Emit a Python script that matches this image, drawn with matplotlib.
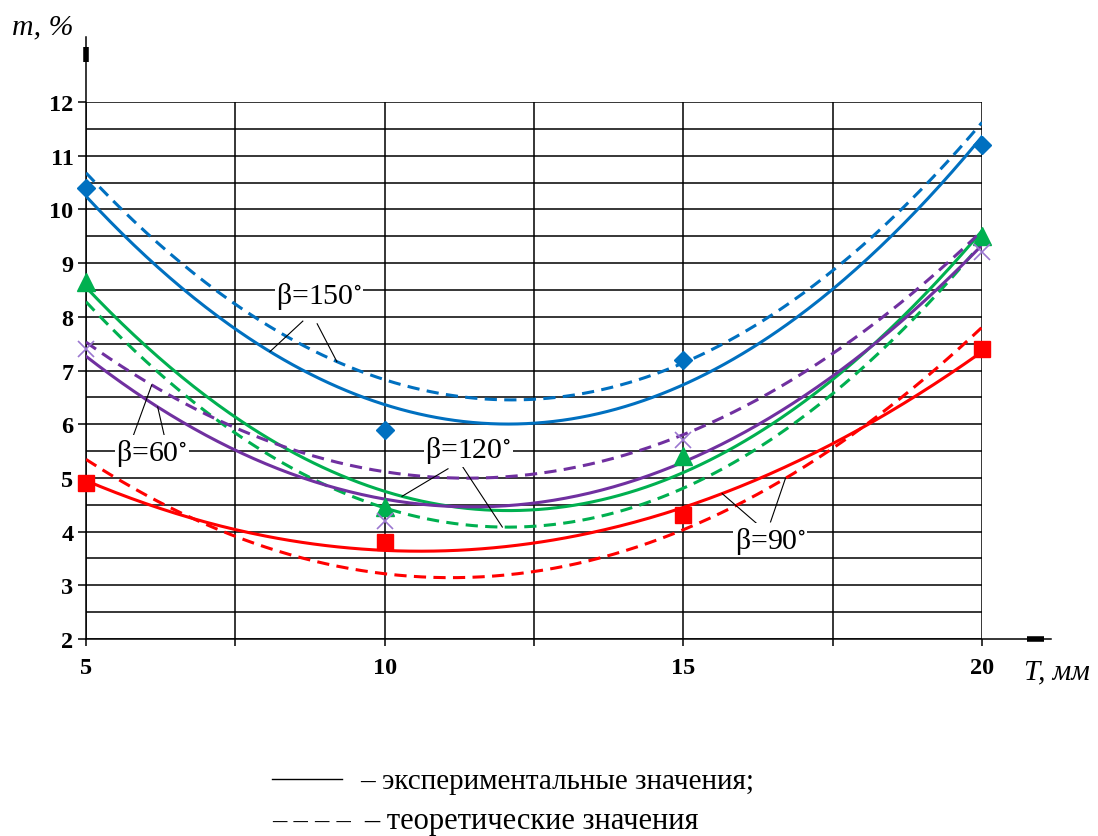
import numpy as np
import matplotlib
matplotlib.use("Agg")
import matplotlib.pyplot as plt
from matplotlib.lines import Line2D

plt.rcParams['font.family'] = ['Liberation Serif', 'DejaVu Serif']
plt.rcParams['mathtext.fontset'] = 'stix'

# Thickness T, mm
T = [5, 10, 15, 20]

# Experimental points, m %
exp_150 = [10.4, 5.9, 7.2, 11.2]
exp_120 = [8.65, 4.45, 5.4, 9.5]
exp_90 = [4.9, 3.8, 4.3, 7.4]
exp_60 = [7.4, 4.2, 5.7, 9.2]

# Theoretical values, m %
theo_150 = [10.7, 6.77, 7.2, 11.6]
theo_120 = [8.3, 4.38, 4.87, 9.36]
theo_90 = [5.35, 3.2, 4.05, 7.8]
theo_60 = [7.55, 5.05, 5.87, 9.58]

x_major = [5, 10, 15, 20]
x_minor = [7.5, 12.5, 17.5]
y_major = list(range(2, 13))
y_minor = [v + 0.5 for v in range(2, 12)]

BLUE = '#0070C0'
GREEN = '#00B050'
RED = '#FF0000'
PURPLE = '#7030A0'
PURPLE_X = '#9B77D0'

W, H = 1098, 837
fig = plt.figure(figsize=(W / 100, H / 100), dpi=100)
ax = fig.add_axes([86 / W, 1 - 640 / H, 896 / W, 537 / H])
ax.set_xlim(5, 20)
ax.set_ylim(2, 12)
for s in ax.spines.values():
    s.set_visible(False)

ax.set_xticks(x_major)
ax.set_xticks(x_minor, minor=True)
ax.set_yticks(y_major)
ax.set_yticks(y_minor, minor=True)
ax.grid(True, which='both', color='black', lw=1.1)
ax.set_axisbelow(True)
ax.tick_params(axis='y', which='major', length=6, width=1.1, pad=3, labelsize=17.5)
ax.tick_params(axis='y', which='minor', length=0)
ax.tick_params(axis='x', which='both', length=5, width=1.1, pad=8, labelsize=17.5)
for lab in ax.get_xticklabels() + ax.get_yticklabels():
    lab.set_fontweight('bold')

# axis arrows
ax.plot([5, 5], [2, 13.21], color='black', lw=1.1, clip_on=False)
ax.plot([5, 5], [12.745, 13.02], color='black', lw=4, solid_capstyle='butt', clip_on=False)
ax.plot([5, 21.15], [2, 2], color='black', lw=1.1, clip_on=False)
ax.plot([20.75, 21.03], [2, 2], color='black', lw=4, solid_capstyle='butt', clip_on=False)

xs = np.linspace(5, 20, 300)
series = [
    (exp_150, theo_150, BLUE, dict(marker='D', ms=9, color=BLUE)),
    (exp_120, theo_120, GREEN, dict(marker='^', ms=13, color=GREEN)),
    (exp_60, theo_60, PURPLE, dict(marker='x', ms=12, mew=1.2, color=PURPLE_X)),
    (exp_90, theo_90, RED, dict(marker='s', ms=12, color=RED)),
]
fits = []
for exp_vals, theo_vals, col, mk in series:
    c_exp = np.polyfit(T, exp_vals, 2)
    c_theo = np.polyfit(T, theo_vals, 2)
    fits.append((c_exp, c_theo))
    ax.plot(xs, np.polyval(c_theo, xs), color=col, lw=2.2, dashes=(4, 2.4), zorder=3)
    ax.plot(xs, np.polyval(c_exp, xs), color=col, lw=2.2, zorder=3)
for exp_vals, theo_vals, col, mk in series:
    ax.plot(T, exp_vals, ls='none', zorder=5, clip_on=False, **mk)

(f150, f120, f60, f90) = fits


def beta_label(text, xy, leaders):
    for (sx, sy), coef, xe in leaders:
        ax.plot([sx, xe], [sy, np.polyval(coef, xe)], color='black', lw=0.8, zorder=4)
    ax.text(xy[0], xy[1], text + r'$^{\circ}$', ha='center', va='center', fontsize=21.5,
            zorder=6, bbox=dict(fc='white', ec='none', pad=1))


beta_label('β=150', (8.9, 8.4), [((8.63, 7.92), f150[0], 8.08), ((8.87, 7.87), f150[1], 9.2)])
beta_label('β=60', (6.1, 5.48), [((5.77, 5.72), f60[1], 6.1), ((6.32, 5.74), f60[0], 6.2)])
beta_label('β=120', (11.4, 5.52), [((11.06, 5.17), f120[0], 10.29), ((11.31, 5.2), f120[1], 11.97)])
beta_label('β=90', (16.45, 3.84), [((16.24, 4.14), f90[0], 15.65), ((16.46, 4.18), f90[1], 16.71)])

fig.text(12 / W, 1 - 27 / H, 'm, %', fontsize=21.5, style='italic', ha='left', va='center')
fig.text(1024 / W, 1 - 672 / H, 'T, мм', fontsize=21, style='italic', ha='left', va='center')

# key beneath the chart
fig.add_artist(Line2D([272 / W, 342 / W], [1 - 780 / H, 1 - 780 / H], color='black', lw=1.0))
fig.text(360 / W, 1 - 782 / H, '– экспериментальные значения;', fontsize=21,
         ha='left', va='center')
fig.text(272 / W, 1 - 822 / H, '– – – –', fontsize=20.5, ha='left', va='center')
fig.text(364 / W, 1 - 822 / H, '– теоретические значения', fontsize=22,
         ha='left', va='center')

fig.savefig('out.png', dpi=100)
